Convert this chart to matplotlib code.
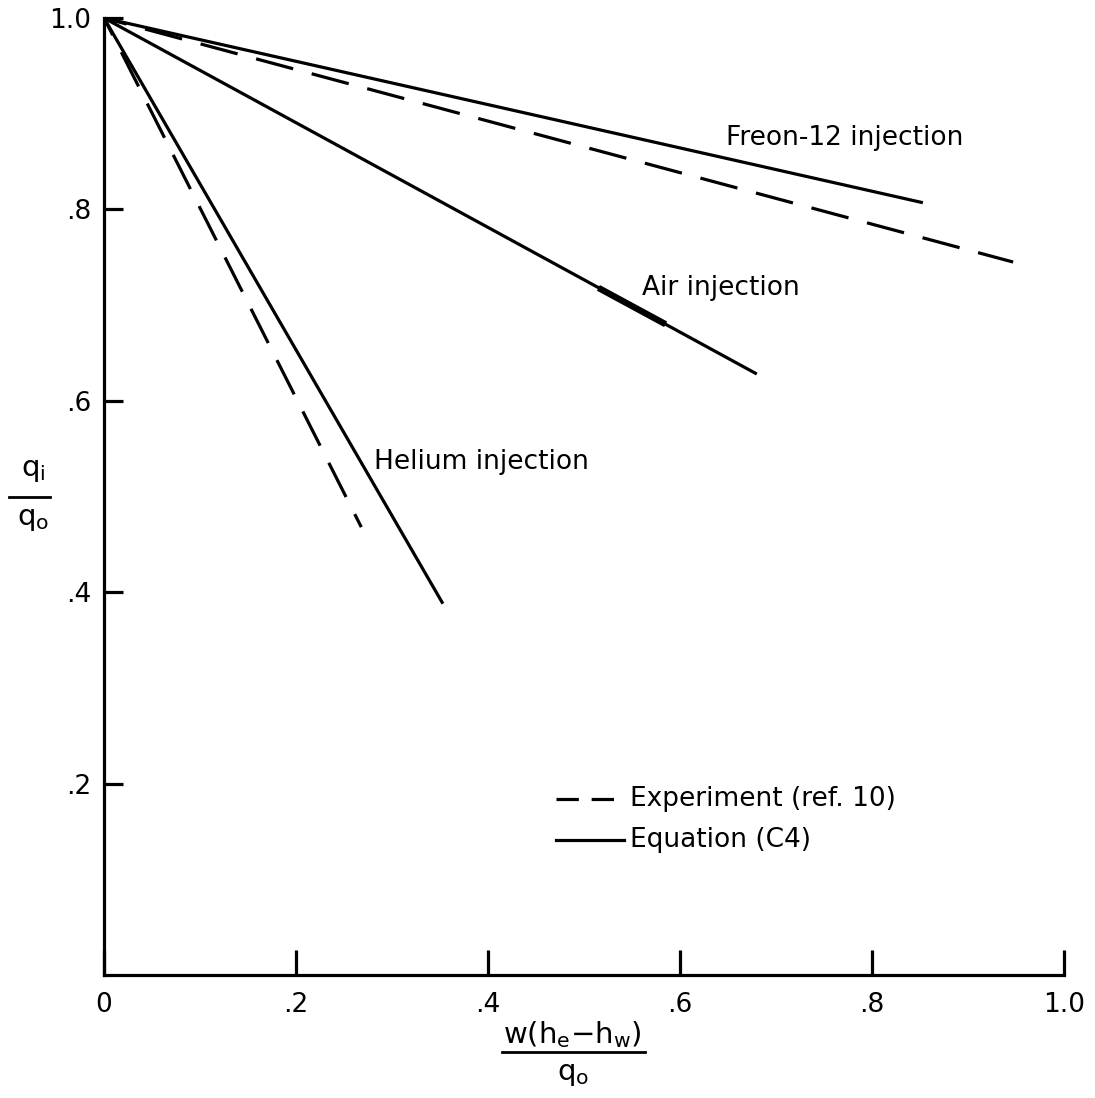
import matplotlib
matplotlib.use("Agg")
import matplotlib.pyplot as plt
from matplotlib.lines import Line2D

# Equation (C4) lines: start and end points
freon_eq_x = [0.0, 0.853]
freon_eq_y = [1.0, 0.807]
air_eq_x = [0.0, 0.680]
air_eq_y = [1.0, 0.628]
helium_eq_x = [0.0, 0.353]
helium_eq_y = [1.0, 0.388]

# Experiment (ref. 10) lines
freon_exp_x = [0.0, 0.947]
freon_exp_y = [1.0, 0.745]
air_exp_x = [0.515, 0.585]
air_exp_y = [0.718, 0.680]
helium_exp_x = [0.0, 0.268]
helium_exp_y = [1.0, 0.468]

xticks = [0.0, 0.2, 0.4, 0.6, 0.8, 1.0]
xticklabels = ["0", ".2", ".4", ".6", ".8", "1.0"]
yticks = [0.2, 0.4, 0.6, 0.8, 1.0]
yticklabels = [".2", ".4", ".6", ".8", "1.0"]

plt.rcParams['font.family'] = ['DejaVu Sans']
fig = plt.figure(figsize=(10.95, 10.98), dpi=100)
ax = fig.add_axes([0.095, 0.112, 0.8767, 0.8716])
ax.set_xlim(0, 1.0)
ax.set_ylim(0, 1.0)

lw = 2.3
ax.plot(freon_eq_x, freon_eq_y, color='black', lw=lw, solid_capstyle='butt')
ax.plot(air_eq_x, air_eq_y, color='black', lw=lw, solid_capstyle='butt')
ax.plot(helium_eq_x, helium_eq_y, color='black', lw=lw, solid_capstyle='butt')
ax.plot(freon_exp_x, freon_exp_y, color='black', lw=lw, linestyle=(4.7, (12, 6)), dash_capstyle='butt')
ax.plot(air_exp_x, air_exp_y, color='black', lw=lw * 2, solid_capstyle='butt')
ax.plot(helium_exp_x, helium_exp_y, color='black', lw=lw, linestyle=(6, (12, 6)), dash_capstyle='butt')

ax.spines['top'].set_visible(False)
ax.spines['right'].set_visible(False)
ax.spines['left'].set_linewidth(2.3)
ax.spines['bottom'].set_linewidth(2.3)
ax.set_xticks(xticks)
ax.set_xticklabels(xticklabels)
ax.set_yticks(yticks)
ax.set_yticklabels(yticklabels)
ax.tick_params(axis='x', direction='in', length=18, width=2.3, pad=12, labelsize=19)
ax.tick_params(axis='y', direction='in', length=14, width=2.3, pad=9, labelsize=19)

fs = 19
ax.text(0.648, 0.875, "Freon-12 injection", fontsize=fs, ha='left', va='center')
ax.text(0.560, 0.718, "Air injection", fontsize=fs, ha='left', va='center')
ax.text(0.281, 0.536, "Helium injection", fontsize=fs, ha='left', va='center')

# legend drawn manually
ax.plot([0.471, 0.542], [0.184, 0.184], color='black', lw=lw, linestyle=(0, (7, 4)), dash_capstyle='butt')
ax.plot([0.471, 0.542], [0.141, 0.141], color='black', lw=lw)
ax.text(0.548, 0.184, "Experiment (ref. 10)", fontsize=fs, ha='left', va='center')
ax.text(0.548, 0.141, "Equation (C4)", fontsize=fs, ha='left', va='center')

# y label as fraction
fig.text(0.030, 0.572, "q$_\\mathregular{i}$", fontsize=21, ha='center', va='center')
fig.add_artist(Line2D([0.008, 0.046], [0.547, 0.547], color='black', lw=2.0, transform=fig.transFigure))
fig.text(0.030, 0.527, "q$_\\mathregular{o}$", fontsize=21, ha='center', va='center')

# x label as fraction
fig.text(0.523, 0.058, "w(h$_\\mathregular{e}$\u2212h$_\\mathregular{w}$)", fontsize=21, ha='center', va='center')
fig.add_artist(Line2D([0.458, 0.589], [0.042, 0.042], color='black', lw=2.0, transform=fig.transFigure))
fig.text(0.523, 0.022, "q$_\\mathregular{o}$", fontsize=21, ha='center', va='center')

fig.savefig("out.png", dpi=100)
